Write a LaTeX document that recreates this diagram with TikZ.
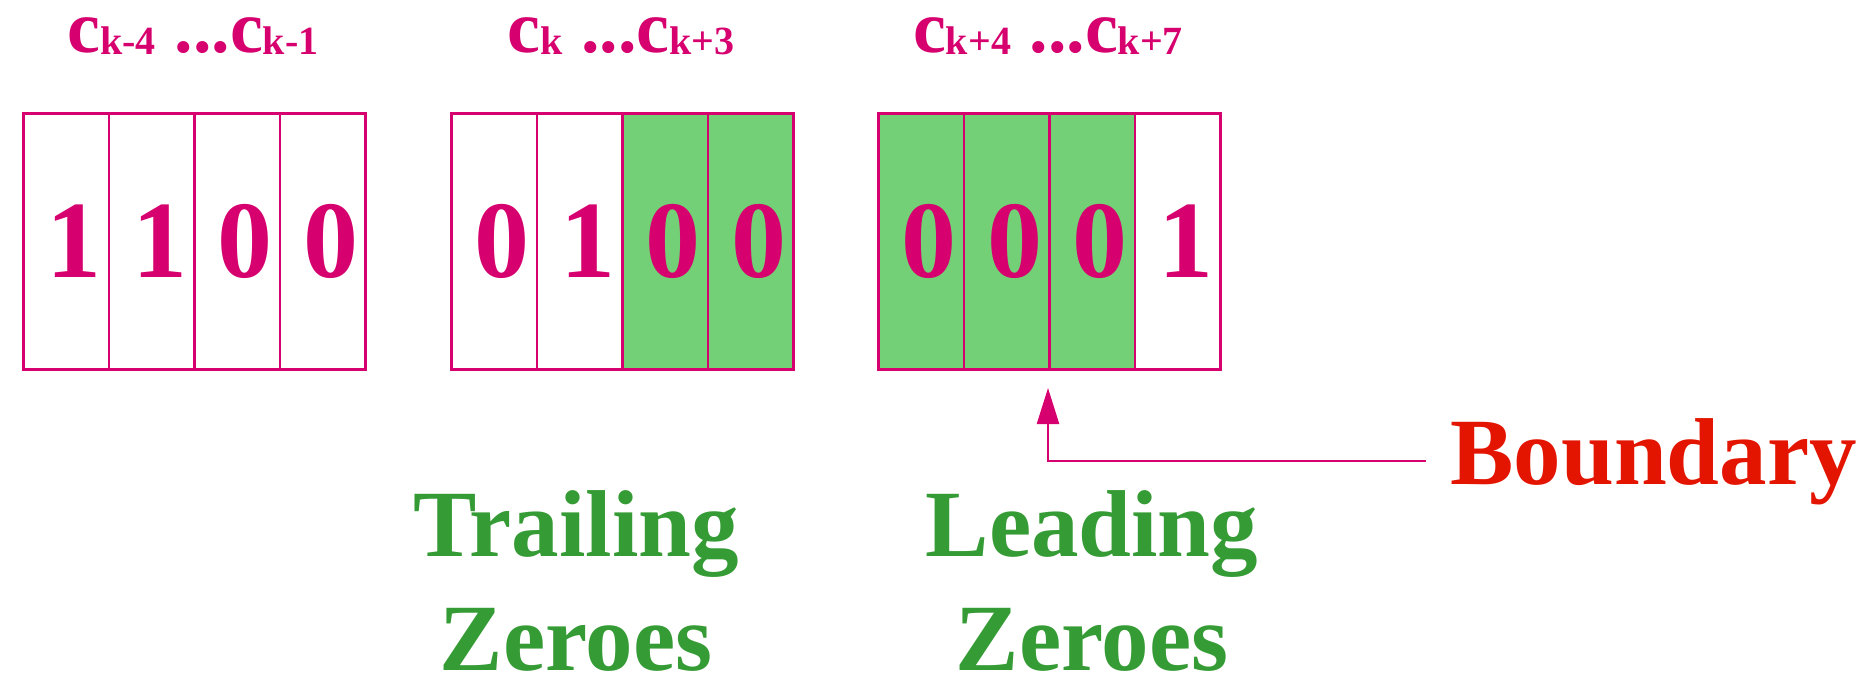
\documentclass[tikz,border=0pt]{standalone}
\usepackage{fontspec}
\setmainfont{Liberation Serif}
\usetikzlibrary{arrows.meta,positioning}

\definecolor{bitpink}{HTML}{D6006E}
\definecolor{zerogreen}{HTML}{74D077}
\definecolor{textgreen}{HTML}{359B35}
\definecolor{boundred}{HTML}{E31400}

% c with its index set small, next to it
\newcommand{\cbit}[1]{c\raisebox{-1.5pt}{\fontsize{20}{20}\selectfont #1}}

\tikzset{
  bitcell/.style={draw=bitpink, line width=1.4pt, anchor=south west,
    minimum width=42.75pt, minimum height=128pt, inner sep=0pt,
    text=bitpink, font=\fontsize{55}{55}\selectfont\bfseries},
  zerocell/.style={bitcell, fill=zerogreen},
  idxlabel/.style={anchor=base, inner sep=0pt, text=bitpink,
    font=\fontsize{37}{37}\selectfont\bfseries},
  runlabel/.style={align=center, text=textgreen,
    font=\fontsize{47.5}{57}\selectfont\bfseries},
}

\begin{document}
\begin{tikzpicture}[x=0.5pt, y=0.5pt]
  \useasboundingbox (0,0) rectangle (1874,682);

  % three words of four bits
  \foreach \i/\d/\s in {0/1/bitcell, 1/1/bitcell, 2/0/bitcell, 3/0/bitcell}
    \node[\s] (lo\i) at (22+85.5*\i, 311) {\hspace*{8pt}\d};
  \foreach \i/\d/\s in {0/0/bitcell, 1/1/bitcell, 2/0/zerocell, 3/0/zerocell}
    \node[\s] (mid\i) at (450+85.5*\i, 311) {\hspace*{8pt}\d};
  \foreach \i/\d/\s in {0/0/zerocell, 1/0/zerocell, 2/0/zerocell, 3/1/bitcell}
    \node[\s] (hi\i) at (877+85.5*\i, 311) {\hspace*{8pt}\d};

  \node[idxlabel] (lolbl)  at (193, 630) {\cbit{k-4} ...\cbit{k-1}};
  \node[idxlabel] (midlbl) at (621, 630) {\cbit{k} ...\cbit{k+3}};
  \node[idxlabel] (hilbl)  at (1048, 630) {\cbit{k+4} ...\cbit{k+7}};

  % boundary marker
  \node[anchor=base west, inner xsep=12pt, text=boundred,
        font=\fontsize{47.5}{47.5}\selectfont\bfseries] (bound) at (1426, 198) {Boundary};
  \draw[bitpink, line width=1.2pt, -{Triangle[length=18pt, width=11pt]},
        shorten >=8.5pt] (bound.west) -| (hi2.south west);

  \node[runlabel] (trail) at (576, 101.5) {Trailing\\Zeroes};
  \node[runlabel] (lead)  at (1092, 101.5) {Leading\\Zeroes};
\end{tikzpicture}
\end{document}
